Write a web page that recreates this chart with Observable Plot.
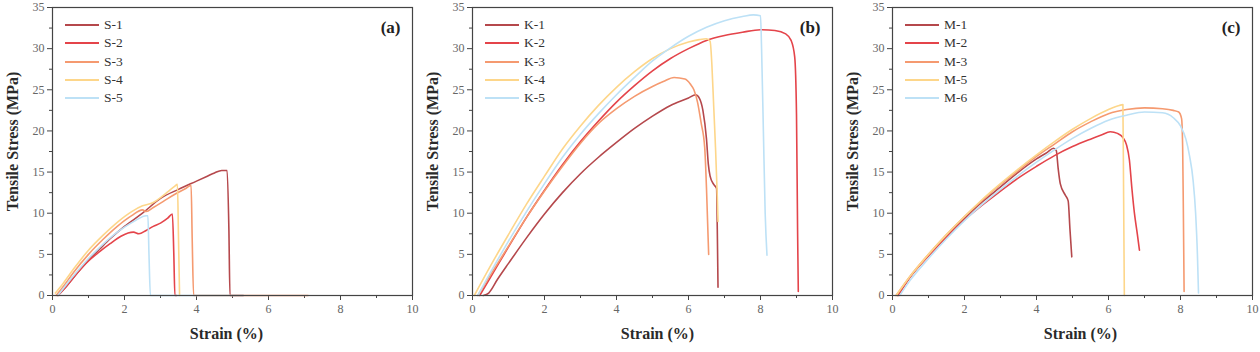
<!DOCTYPE html>
<html><head><meta charset="utf-8">
<script src="https://cdn.jsdelivr.net/npm/d3@7"></script>
<script src="https://cdn.jsdelivr.net/npm/@observablehq/plot@0.6"></script>
<style>
body{margin:0;background:#fff;font-family:"Liberation Serif","Times New Roman",serif;}
#wrap{display:flex;width:1260px;height:352px;}
.panel{position:relative;width:420px;height:352px;}
.legend{position:absolute;left:65px;top:16px;}
.row{display:flex;align-items:center;height:18.3px;font-size:13.5px;color:#333;}
.sw{width:34px;height:0;border-top:2px solid;margin-right:5px;}
</style></head><body><div id="wrap"></div><script>
// ---- tick labels ----
const xTicks = [0, 2, 4, 6, 8, 10];
const xMinor = [1, 3, 5, 7, 9];
const yTicks = [0, 5, 10, 15, 20, 25, 30, 35];
const yMinor = [2.5, 7.5, 12.5, 17.5, 22.5, 27.5, 32.5];
const colors = ["#b5484c", "#e4444a", "#f59a70", "#fdd68a", "#bde1f6"];

// ---- panel (a) ----
const namesA = ["S-1", "S-2", "S-3", "S-4", "S-5"];
const S1_x = [0.15,0.4,0.7,1.0,1.3,1.6,2.0,2.5,3.0,3.5,4.0,4.3,4.5,4.7,4.85,4.9,4.93,5.3];
const S1_y = [0,1.2,2.8,4.3,5.6,6.9,8.4,10.0,11.8,12.9,13.9,14.5,14.9,15.2,15.2,8,0,0];
const S2_x = [0.15,0.4,0.7,1.0,1.3,1.6,1.9,2.1,2.25,2.4,2.6,2.8,3.0,3.2,3.33,3.37,3.4,3.45];
const S2_y = [0,1.2,2.8,4.2,5.3,6.3,7.2,7.6,7.7,7.5,7.9,8.4,8.8,9.4,9.9,5,0,0];
const S3_x = [0.1,0.3,0.6,1.0,1.4,1.8,2.2,2.5,2.6,2.8,3.1,3.4,3.7,3.85,3.88,3.92,5.3,7.1];
const S3_y = [0,1.1,2.9,5.0,6.8,8.4,9.7,10.4,10.2,10.7,11.5,12.3,13.0,13.4,7,0,0,0];
const S4_x = [0.08,0.3,0.6,1.0,1.4,1.8,2.2,2.5,2.8,3.0,3.2,3.4,3.47,3.5,3.53];
const S4_y = [0.3,1.5,3.3,5.5,7.3,8.9,10.2,10.9,11.3,11.9,12.6,13.3,13.5,7,0];
const S5_x = [0.15,0.4,0.7,1.0,1.3,1.6,2.0,2.3,2.6,2.65,2.68,2.72,5.3];
const S5_y = [0,1.4,3.0,4.5,5.8,7.0,8.3,9.1,9.7,9.7,5,0,0];

// ---- panel (b) ----
const namesB = ["K-1", "K-2", "K-3", "K-4", "K-5"];
const K1_x = [0.3,0.45,0.7,1.0,1.5,2.0,2.5,3.0,3.5,4.0,4.5,5.0,5.5,6.0,6.2,6.3,6.4,6.5,6.55,6.6,6.7,6.78,6.8,6.82];
const K1_y = [0,0.3,2.0,3.9,7.0,9.9,12.5,14.8,16.8,18.6,20.3,21.8,23.1,24.0,24.4,24.0,22.5,19,16,14.5,13.5,13.0,8,1];
const K2_x = [0.2,0.5,1.0,1.5,2.0,2.5,3.0,3.5,4.0,4.5,5.0,5.5,6.0,6.5,7.0,7.5,8.0,8.4,8.7,8.85,8.95,9.0,9.03,9.05];
const K2_y = [0,2.2,5.9,9.5,12.8,15.9,18.7,21.2,23.5,25.5,27.3,28.8,30.0,31.0,31.6,32.0,32.3,32.2,31.8,31.0,29.0,22,8,0.5];
const K3_x = [0.15,0.5,1.0,1.5,2.0,2.5,3.0,3.5,4.0,4.5,5.0,5.3,5.6,5.9,6.05,6.15,6.25,6.35,6.45,6.5,6.53,6.56];
const K3_y = [0,2.5,6.0,9.5,12.7,15.7,18.5,20.9,22.7,24.2,25.4,26.0,26.5,26.3,25.7,25.0,23.5,21,18,13,9,5];
const K4_x = [0.05,0.5,1.0,1.5,2.0,2.5,3.0,3.5,4.0,4.5,5.0,5.5,6.0,6.3,6.5,6.6,6.65,6.7,6.75,6.8,6.82];
const K4_y = [0,3.6,7.4,11.1,14.5,17.8,20.6,23.1,25.3,27.2,28.8,30.0,30.8,31.1,31.2,30.9,28,23,18,12,9];
const K5_x = [0.15,0.5,1.0,1.5,2.0,2.5,3.0,3.5,4.0,4.5,5.0,5.5,6.0,6.5,7.0,7.5,7.8,8.0,8.03,8.08,8.13,8.18];
const K5_y = [0,2.8,6.6,10.2,13.6,16.8,19.6,22.1,24.4,26.5,28.5,30.1,31.5,32.6,33.4,33.9,34.1,34.0,30,20,10,4.9];

// ---- panel (c) ----
const namesC = ["M-1", "M-2", "M-3", "M-5", "M-6"];
const M1_x = [0.15,0.5,1.0,1.5,2.0,2.5,3.0,3.5,4.0,4.3,4.47,4.55,4.6,4.66,4.8,4.88,4.93,4.98];
const M1_y = [0,2.3,4.9,7.2,9.4,11.4,13.2,15.0,16.6,17.4,17.9,17.6,15.5,13.6,12.2,11.5,8,4.7];
const M2_x = [0.15,0.5,1.0,1.5,2.0,2.5,3.0,3.5,4.0,4.5,5.0,5.5,5.8,6.05,6.25,6.4,6.5,6.58,6.65,6.72,6.8,6.86];
const M2_y = [0,2.3,4.8,7.1,9.2,11.0,12.7,14.3,15.7,17.0,18.1,19.0,19.5,19.9,19.7,19.2,18.3,16.5,13,10,7.5,5.5];
const M3_x = [0.1,0.5,1.0,1.5,2.0,2.5,3.0,3.5,4.0,4.5,5.0,5.5,6.0,6.5,7.0,7.5,7.8,7.95,8.03,8.06,8.08,8.1];
const M3_y = [0,2.4,5.0,7.4,9.6,11.6,13.5,15.2,16.9,18.4,19.9,21.1,22.1,22.6,22.8,22.7,22.5,22.3,21.5,18,10,0.5];
const M5_x = [0.1,0.5,1.0,1.5,2.0,2.5,3.0,3.5,4.0,4.5,5.0,5.5,6.0,6.3,6.4,6.42,6.44];
const M5_y = [0,2.4,5.0,7.4,9.6,11.7,13.6,15.4,17.1,18.7,20.2,21.5,22.6,23.1,23.2,12,0];
const M6_x = [0.2,0.5,1.0,1.5,2.0,2.5,3.0,3.5,4.0,4.5,5.0,5.5,6.0,6.5,7.0,7.5,7.8,8.0,8.15,8.25,8.35,8.42,8.47,8.5];
const M6_y = [0,1.9,4.5,6.9,9.1,11.1,12.9,14.6,16.2,17.7,19.1,20.3,21.3,21.9,22.3,22.2,21.6,20.6,19,17,14,10,5,0.3];

function makePanel(names, xs, ys, tag, xTitleDx) {
  const data = names.flatMap((n, i) => xs[i].map((x, j) => ({name: n, strain: x, stress: ys[i][j]})));
  const svg = Plot.plot({
    width: 420, height: 352,
    marginLeft: 52, marginRight: 8, marginTop: 7, marginBottom: 57,
    style: {fontFamily: "'Liberation Serif', 'Times New Roman', serif", fontSize: "12px", color: "#666", background: "white"},
    x: {domain: [0, 10]},
    y: {domain: [0, 35]},
    color: {domain: names, range: colors},
    marks: [
      Plot.axisX({ticks: xTicks, tickSize: 5, tickPadding: 4, label: null, stroke: "#444"}),
      Plot.axisX({ticks: xMinor, tickSize: 3, tickFormat: () => "", label: null, stroke: "#444"}),
      Plot.axisY({ticks: yTicks, tickSize: 5, tickPadding: 3, label: null, stroke: "#444"}),
      Plot.axisY({ticks: yMinor, tickSize: 3, tickFormat: () => "", label: null, stroke: "#444"}),
      Plot.line(data, {x: "strain", y: "stress", z: "name", stroke: "name", strokeWidth: 1.6, curve: "monotone-x"}),
      Plot.frame({stroke: "#444", strokeWidth: 1.2}),
      Plot.text([tag], {frameAnchor: "top-right", textAnchor: "end", lineAnchor: "middle", dx: -12, dy: 20, fontSize: 17, fontWeight: "bold", fill: "#222"}),
      Plot.text(["Strain (%)"], {frameAnchor: "bottom", textAnchor: "middle", lineAnchor: "middle", dx: xTitleDx, dy: 38, fontSize: 16, fontWeight: "bold", fill: "#2a2a2a"}),
      Plot.text(["Tensile Stress (MPa)"], {frameAnchor: "left", textAnchor: "middle", lineAnchor: "middle", rotate: -90, dx: -40, dy: -10, fontSize: 16, fontWeight: "bold", fill: "#2a2a2a"})
    ]
  });
  const div = document.createElement("div");
  div.className = "panel";
  div.appendChild(svg);
  const leg = document.createElement("div");
  leg.className = "legend";
  names.forEach((n, i) => {
    const r = document.createElement("div");
    r.className = "row";
    const sw = document.createElement("span");
    sw.className = "sw";
    sw.style.borderTopColor = colors[i];
    const t = document.createElement("span");
    t.textContent = n;
    r.appendChild(sw); r.appendChild(t);
    leg.appendChild(r);
  });
  div.appendChild(leg);
  document.getElementById("wrap").appendChild(div);
}

makePanel(namesA, [S1_x, S2_x, S3_x, S4_x, S5_x], [S1_y, S2_y, S3_y, S4_y, S5_y], "(a)", -6);
makePanel(namesB, [K1_x, K2_x, K3_x, K4_x, K5_x], [K1_y, K2_y, K3_y, K4_y, K5_y], "(b)", 5);
makePanel(namesC, [M1_x, M2_x, M3_x, M5_x, M6_x], [M1_y, M2_y, M3_y, M5_y, M6_y], "(c)", 8);
</script></body></html>
